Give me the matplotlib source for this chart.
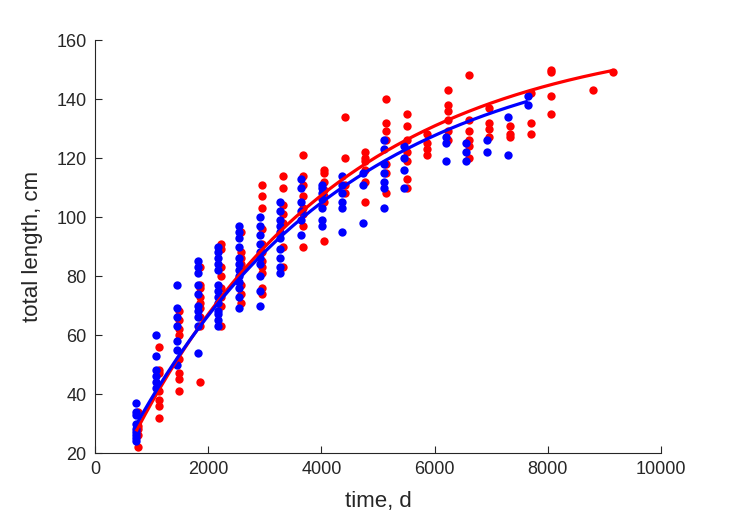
import numpy as np
import matplotlib
matplotlib.use("Agg")
import matplotlib.pyplot as plt

plt.rcParams['font.family'] = ['Liberation Sans', 'DejaVu Sans']

# Age classes (days)
blue_times = [730, 1095, 1460, 1825, 2190, 2555, 2920, 3285, 3650, 4015,
              4380, 4745, 5110, 5475, 6205, 6570, 6935, 7300, 7665]
blue_values = [
    [37, 34, 33, 30, 28, 27, 26, 25, 24],
    [60, 53, 48, 46, 44, 42],
    [77, 69, 66, 63, 58, 55, 50],
    [85, 83, 81, 77, 74, 70, 68, 66, 63, 54],
    [90, 88, 86, 84, 82, 77, 75, 73, 71, 68, 67, 65, 63],
    [97, 95, 93, 90, 86, 84, 82, 80, 78, 76, 73, 69],
    [100, 97, 94, 91, 88, 86, 84, 80, 75, 70],
    [105, 102, 99, 97, 95, 93, 89, 86, 83, 81],
    [113, 110, 105, 102, 99, 94],
    [111, 110, 108, 106, 103, 99, 97],
    [114, 111, 108, 105, 103, 95],
    [115, 111, 98],
    [126, 123, 118, 115, 112, 110, 103],
    [124, 120, 116, 110],
    [127, 125, 119],
    [125, 122, 119],
    [126, 122],
    [134, 121],
    [141, 138],
]

red_times = [730, 1095, 1460, 1825, 2190, 2555, 2920, 3285, 3650, 4015,
             4380, 4745, 5110, 5475, 5840, 6205, 6570, 6935, 7300, 7665,
             8030, 8760, 9125]
red_values = [
    [34, 29, 28, 26, 22],
    [56, 48, 47, 41, 38, 36, 32],
    [68, 65, 62, 60, 52, 47, 45, 41],
    [83, 77, 76, 73, 71, 69, 66, 63, 44],
    [91, 89, 83, 80, 76, 73, 70, 63],
    [95, 88, 86, 84, 82, 77, 74, 71],
    [111, 107, 103, 96, 91, 88, 85, 83, 81, 76, 74],
    [114, 110, 104, 101, 98, 90, 83],
    [121, 114, 111, 107, 103, 101, 97, 90],
    [116, 115, 112, 109, 107, 105, 92],
    [134, 120, 111, 108],
    [122, 120, 119, 116, 112, 105],
    [140, 132, 129, 126, 118, 115, 108],
    [135, 131, 126, 122, 119, 113, 110],
    [128, 125, 123, 121],
    [143, 138, 136, 133, 129, 126],
    [148, 133, 129, 126, 124, 120],
    [137, 132, 130, 127],
    [131, 128, 127],
    [142, 132, 128],
    [150, 149, 141, 135],
    [143],
    [149],
]

# von Bertalanffy growth fits: L(t) = Linf - A * exp(-k t)
red_Linf, red_A, red_k = 163.7, 165.9, 0.00027
red_t_range = (740, 9125)
blue_Linf, blue_A, blue_k = 161.0, 158.8, 0.00026
blue_t_range = (705, 7620)


def flatten(times, values, shift):
    xs, ys = [], []
    for t, vals in zip(times, values):
        for v in vals:
            xs.append(t + shift)
            ys.append(v)
    return np.array(xs), np.array(ys)


rx, ry = flatten(red_times, red_values, 30)
bx, by = flatten(blue_times, blue_values, -10)

fig = plt.figure(figsize=(7.29, 5.21), dpi=100)
ax = fig.add_axes([95/729, 1 - 453/521, 566/729, 413/521])

ax.scatter(rx, ry, s=36, color='#ff0000', zorder=2, linewidths=0)
ax.scatter(bx, by, s=36, color='#0000ff', zorder=3, linewidths=0)

tr = np.linspace(*red_t_range, 300)
ax.plot(tr, red_Linf - red_A * np.exp(-red_k * tr),
        color='#ff0000', lw=2.3, zorder=4)
tb = np.linspace(*blue_t_range, 300)
ax.plot(tb, blue_Linf - blue_A * np.exp(-blue_k * tb),
        color='#0000ff', lw=2.3, zorder=5)

ax.set_xlim(0, 10000)
ax.set_ylim(20, 160)
ax.set_xticks(np.arange(0, 10001, 2000))
ax.set_yticks(np.arange(20, 161, 20))

tc = '#262626'
for s in ['top', 'right']:
    ax.spines[s].set_visible(False)
for s in ['left', 'bottom']:
    ax.spines[s].set_color(tc)
    ax.spines[s].set_linewidth(0.8)
ax.tick_params(direction='in', length=5, width=0.8, colors=tc,
               labelsize=13, pad=6)
ax.set_xlabel('time, d', fontsize=16, color=tc, labelpad=9)
ax.set_ylabel('total length, cm', fontsize=16, color=tc, labelpad=10)

fig.savefig('out.png', dpi=100)
